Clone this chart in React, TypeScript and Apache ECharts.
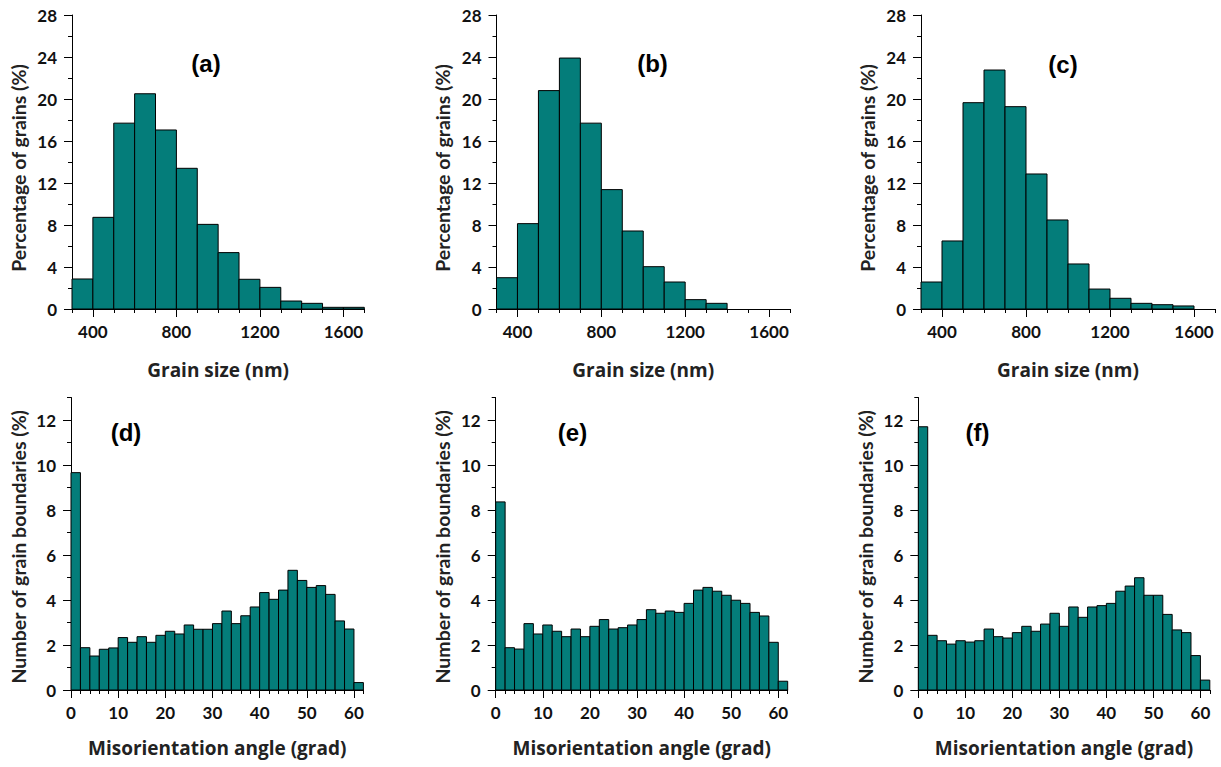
import React, { useEffect, useRef } from "react";
import * as echarts from "echarts";

// ---- Data ----
const grainBins = [300, 400, 500, 600, 700, 800, 900, 1000, 1100, 1200, 1300, 1400, 1500, 1600];
const grainBinWidth = 100;
const grainA = [2.86, 8.73, 17.7, 20.5, 17.05, 13.4, 8.06, 5.37, 2.83, 2.06, 0.76, 0.54, 0.16, 0.16];
const grainB = [2.98, 8.13, 20.8, 23.9, 17.7, 11.37, 7.43, 4.03, 2.57, 0.89, 0.54, 0, 0, 0];
const grainC = [2.57, 6.48, 19.65, 22.76, 19.27, 12.86, 8.48, 4.29, 1.9, 1.02, 0.54, 0.41, 0.29, 0];

const angleBins = [0, 2, 4, 6, 8, 10, 12, 14, 16, 18, 20, 22, 24, 26, 28, 30, 32, 34, 36, 38, 40, 42, 44, 46, 48, 50, 52, 54, 56, 58, 60];
const angleBinWidth = 2;
const angleD = [9.66, 1.88, 1.51, 1.81, 1.87, 2.33, 2.12, 2.37, 2.12, 2.43, 2.61, 2.49, 2.89, 2.7, 2.7, 2.95, 3.51, 2.95, 3.3, 3.69, 4.33, 4.03, 4.44, 5.32, 4.87, 4.56, 4.64, 4.25, 3.07, 2.71, 0.33];
const angleE = [8.36, 1.88, 1.82, 2.95, 2.49, 2.89, 2.61, 2.37, 2.71, 2.37, 2.83, 3.13, 2.71, 2.77, 2.89, 3.13, 3.57, 3.41, 3.51, 3.45, 3.85, 4.44, 4.56, 4.39, 4.21, 3.99, 3.85, 3.45, 3.29, 2.12, 0.39];
const angleF = [11.7, 2.43, 2.19, 2.04, 2.19, 2.13, 2.19, 2.71, 2.37, 2.31, 2.55, 2.83, 2.61, 2.93, 3.41, 2.83, 3.69, 3.23, 3.69, 3.75, 3.85, 4.39, 4.62, 4.99, 4.21, 4.21, 3.36, 2.67, 2.55, 1.53, 0.44];

const grainTickLabels = [400, 800, 1200, 1600];
const grainPctLabels = [0, 4, 8, 12, 16, 20, 24, 28];
const angleTickLabels = [0, 10, 20, 30, 40, 50, 60];
const boundaryLabels = [0, 2, 4, 6, 8, 10, 12];
const panelLabels = ["(a)", "(b)", "(c)", "(d)", "(e)", "(f)"];

const grainXName = "Grain size (nm)";
const grainYName = "Percentage of grains (%)";
const angleXName = "Misorientation angle (grad)";
const angleYName = "Number of grain boundaries (%)";

// ---- Layout ----
const grids = [
  { left: 72, top: 15, width: 292.3, height: 294 },
  { left: 496.5, top: 15, width: 293.5, height: 294 },
  { left: 921, top: 15, width: 294, height: 294 },
  { left: 71, top: 397.5, width: 292.4, height: 292.5 },
  { left: 495.7, top: 397.5, width: 292, height: 292.5 },
  { left: 918.3, top: 397.5, width: 291.5, height: 292.5 },
];
const labelPos = [
  [206, 63], [652.5, 63], [1063, 64], [126, 432], [572.5, 432], [977.5, 432],
];

const BAR_FILL = "#047d7a";
const FONT = "Lato";
const TITLE_X_FONT = "'Open Sans'";

const plainNum = (v: number) => String(v);

function mainX(gi: number, min: number, max: number, interval: number, labels: number[], name: string, nameGap: number) {
  return {
    type: "value", gridIndex: gi, position: "bottom", min, max, interval,
    name, nameLocation: "middle", nameGap,
    nameTextStyle: { fontFamily: TITLE_X_FONT, fontWeight: "bold", fontSize: 19, color: "#222" },
    axisLine: { show: true, onZero: false, lineStyle: { color: "#000", width: 1 } },
    axisTick: { show: true, inside: false, length: 4, lineStyle: { color: "#000", width: 1 } },
    axisLabel: { show: true, customValues: labels, formatter: plainNum, margin: 14, fontFamily: FONT, fontWeight: "bold", fontSize: 17, color: "#111" },
    splitLine: { show: false },
  };
}
function majorX(gi: number, min: number, max: number, ticks: number[]) {
  return {
    type: "value", gridIndex: gi, position: "bottom", min, max,
    axisLine: { show: false, onZero: false },
    axisTick: { show: true, inside: false, length: 8, customValues: ticks, lineStyle: { color: "#000", width: 1 } },
    axisLabel: { show: false },
    splitLine: { show: false },
  };
}
function mainY(gi: number, min: number, max: number, interval: number, labels: number[], name: string, nameGap: number, shift: number) {
  return {
    type: "value", gridIndex: gi, position: "left", min, max, interval,
    name, nameLocation: "middle", nameGap,
    nameTextStyle: { fontFamily: FONT, fontWeight: "bold", fontSize: 19.5, color: "#222", padding: [0, shift, 0, 0] },
    axisLine: { show: true, onZero: false, lineStyle: { color: "#000", width: 1 } },
    axisTick: { show: true, inside: false, length: 4, lineStyle: { color: "#000", width: 1 } },
    axisLabel: { show: true, customValues: labels, formatter: plainNum, margin: 15, fontFamily: FONT, fontWeight: "bold", fontSize: 17, color: "#111" },
    splitLine: { show: false },
  };
}
function majorY(gi: number, min: number, max: number, ticks: number[]) {
  return {
    type: "value", gridIndex: gi, position: "left", min, max,
    axisLine: { show: false, onZero: false },
    axisTick: { show: true, inside: false, length: 8, customValues: ticks, lineStyle: { color: "#000", width: 1 } },
    axisLabel: { show: false },
    splitLine: { show: false },
  };
}

function histSeries(gi: number, bins: number[], width: number, vals: number[]) {
  return {
    type: "custom",
    xAxisIndex: gi * 2,
    yAxisIndex: gi * 2,
    data: bins.map((b, i) => [b, b + width, vals[i]]),
    encode: { x: [0, 1], y: 2 },
    renderItem: (params: any, api: any) => {
      const x0 = api.value(0);
      const x1 = api.value(1);
      const v = api.value(2);
      if (!v) return null;
      const p0 = api.coord([x0, v]);
      const p1 = api.coord([x1, 0]);
      return {
        type: "rect",
        shape: { x: p0[0], y: p0[1], width: p1[0] - p0[0], height: p1[1] - p0[1] },
        style: { fill: BAR_FILL, stroke: "#000", lineWidth: 1 },
      };
    },
  };
}

export default function App() {
  const ref = useRef<HTMLDivElement>(null);
  useEffect(() => {
    if (!ref.current) return;
    const chart = echarts.init(ref.current, undefined, { renderer: "svg" });
    const xAxis: any[] = [];
    const yAxis: any[] = [];
    for (let g = 0; g < 3; g++) {
      xAxis.push(mainX(g, 300, 1700, 100, grainTickLabels, grainXName, 51));
      xAxis.push(majorX(g, 300, 1700, grainTickLabels));
      yAxis.push(mainY(g, 0, 28, 2, grainPctLabels, grainYName, 44, 12));
      yAxis.push(majorY(g, 0, 28, grainPctLabels));
    }
    for (let g = 3; g < 6; g++) {
      xAxis.push(mainX(g, 0, 62, 2, angleTickLabels, angleXName, 48));
      xAxis.push(majorX(g, 0, 62, angleTickLabels));
      yAxis.push(mainY(g, 0, 13, 1, boundaryLabels, angleYName, 43, 6));
      yAxis.push(majorY(g, 0, 13, boundaryLabels));
    }
    const series = [
      histSeries(0, grainBins, grainBinWidth, grainA),
      histSeries(1, grainBins, grainBinWidth, grainB),
      histSeries(2, grainBins, grainBinWidth, grainC),
      histSeries(3, angleBins, angleBinWidth, angleD),
      histSeries(4, angleBins, angleBinWidth, angleE),
      histSeries(5, angleBins, angleBinWidth, angleF),
    ];
    chart.setOption({
      animation: false,
      backgroundColor: "#ffffff",
      textStyle: { fontFamily: FONT },
      grid: grids.map((g) => ({ ...g, containLabel: false })),
      xAxis,
      yAxis,
      series,
      graphic: panelLabels.map((t, i) => ({
        type: "text",
        x: labelPos[i][0],
        y: labelPos[i][1],
        style: {
          text: t,
          font: "bold 24px 'Liberation Sans', Arial, sans-serif",
          fill: "#000",
          textAlign: "center",
          textVerticalAlign: "middle",
        },
      })),
    });
    return () => chart.dispose();
  }, []);
  return (
    <div
      ref={ref}
      style={{ position: "fixed", left: 0, top: 0, width: 1221, height: 767, background: "#fff" }}
    />
  );
}
